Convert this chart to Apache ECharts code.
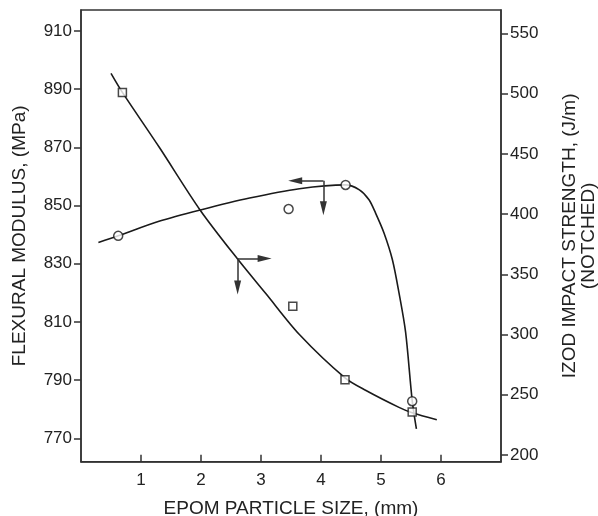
<!DOCTYPE html>
<html>
<head>
<meta charset="utf-8">
<script src="https://cdn.jsdelivr.net/npm/echarts@6/dist/echarts.min.js"></script>
<style>
html,body{margin:0;padding:0;background:#fff;}
#chart{width:598px;height:516px;}
</style>
</head>
<body>
<div id="chart"></div>
<script>
// Axis ticks
const xTicks = [1, 2, 3, 4, 5, 6];
const flexTicks = [770, 790, 810, 830, 850, 870, 890, 910];
const izodTicks = [200, 250, 300, 350, 400, 450, 500, 550];

// Measured points: flexural modulus (circles, left axis)
const flexX = [0.62, 3.46, 4.41, 5.52];
const flexY = [839.6, 848.8, 857.1, 782.8];

// Measured points: Izod impact strength (squares, right axis)
const izodX = [0.69, 3.53, 4.40, 5.52];
const izodY = [501.0, 323.5, 262.5, 235.6];

// Fitted curve: flexural modulus
const flexCurveX = [0.29, 0.62, 1.30, 1.99, 2.81, 3.64, 4.41, 4.64, 4.80, 4.91, 5.05, 5.19, 5.30, 5.41, 5.52, 5.59];
const flexCurveY = [837.3, 839.6, 844.6, 848.5, 852.6, 855.8, 857.1, 855.4, 852.0, 847.4, 840.6, 831.4, 820.0, 806.5, 783.0, 773.3];

// Fitted curve: Izod impact strength
const izodCurveX = [0.50, 0.69, 1.31, 1.99, 2.62, 3.08, 3.64, 4.40, 4.75, 5.30, 5.52, 5.93];
const izodCurveY = [516.8, 501.0, 455.0, 403.0, 362.0, 334.0, 300.0, 264.0, 253.5, 239.5, 235.0, 229.2];

// Axis-pointer arrows (data coordinates)
const flexArrowX = [4.04, 3.57];   // corner x, arrow tip x
const flexArrowY = [858.5, 849.1]; // corner y, arrow tip y
const izodArrowX = [2.61, 3.06];
const izodArrowY = [363.1, 339.0];

const zip = (a, b) => a.map((v, i) => [v, b[i]]);

const ink = '#1a1a1a';
const axisColor = '#333';
const fontFamily = '"Liberation Sans", Arial, Helvetica, sans-serif';

const chart = echarts.init(document.getElementById('chart'), null, {renderer: 'canvas'});

const arrowStyle = {color: axisColor, width: 1.5, type: 'solid'};

chart.setOption({
  animation: false,
  backgroundColor: '#fff',
  grid: {left: 81, right: 97, top: 10, bottom: 54.3, containLabel: false, outerBoundsMode: 'none', show: true, borderColor: axisColor, borderWidth: 1.5, backgroundColor: 'transparent'},
  textStyle: {fontFamily: fontFamily},
  xAxis: {
    type: 'value',
    min: 0, max: 7,
    name: 'EPOM PARTICLE SIZE, (mm)',
    nameLocation: 'middle',
    nameGap: 38,
    nameTextStyle: {fontSize: 19, color: '#222', fontFamily: fontFamily},
    axisLine: {show: true, lineStyle: {color: axisColor, width: 1.5}},
    axisTick: {show: true, inside: true, length: 7, lineStyle: {color: axisColor, width: 1.5}, customValues: xTicks},
    axisLabel: {fontSize: 17, color: '#222', margin: 10, customValues: xTicks, fontFamily: fontFamily},
    splitLine: {show: false}
  },
  yAxis: [
    {
      type: 'value',
      position: 'left',
      min: 762.0, max: 917.2,
      name: 'FLEXURAL MODULUS, (MPa)',
      nameLocation: 'middle',
      nameRotate: 90,
      nameGap: 52,
      nameTextStyle: {fontSize: 19, color: '#222', fontFamily: fontFamily},
      axisLine: {show: true, lineStyle: {color: axisColor, width: 1.5}},
      axisTick: {show: true, inside: false, length: 7, lineStyle: {color: axisColor, width: 1.5}, customValues: flexTicks},
      axisLabel: {fontSize: 17, color: '#222', margin: 9, customValues: flexTicks, fontFamily: fontFamily},
      splitLine: {show: false}
    },
    {
      type: 'value',
      position: 'right',
      min: 194.4, max: 569.4,
      name: 'IZOD IMPACT STRENGTH, (J/m)\n(NOTCHED)',
      nameLocation: 'middle',
      nameRotate: 90,
      nameGap: 59,
      nameTextStyle: {fontSize: 19, color: '#222', lineHeight: 19, align: 'center', fontFamily: fontFamily},
      axisLine: {show: true, lineStyle: {color: axisColor, width: 1.5}},
      axisTick: {show: true, inside: false, length: 7, lineStyle: {color: axisColor, width: 1.5}, customValues: izodTicks},
      axisLabel: {fontSize: 17, color: '#222', margin: 9, customValues: izodTicks, fontFamily: fontFamily},
      splitLine: {show: false}
    }
  ],
  series: [
    {
      name: 'Flexural curve',
      type: 'line',
      yAxisIndex: 0,
      data: zip(flexCurveX, flexCurveY),
      smooth: 0.3,
      showSymbol: false,
      lineStyle: {color: ink, width: 1.6},
      silent: true,
      z: 2,
      markLine: {
        silent: true,
        symbol: ['none', 'triangle'],
        symbolSize: [7, 14],
        label: {show: false},
        lineStyle: arrowStyle,
        data: [
          [{coord: [flexArrowX[0], flexArrowY[0]]}, {coord: [flexArrowX[1], flexArrowY[0]]}],
          [{coord: [flexArrowX[0], flexArrowY[0]]}, {coord: [flexArrowX[0], flexArrowY[1]]}]
        ]
      }
    },
    {
      name: 'Izod curve',
      type: 'line',
      yAxisIndex: 1,
      data: zip(izodCurveX, izodCurveY),
      smooth: 0.3,
      showSymbol: false,
      lineStyle: {color: ink, width: 1.6},
      silent: true,
      z: 2,
      markLine: {
        silent: true,
        symbol: ['none', 'triangle'],
        symbolSize: [7, 14],
        label: {show: false},
        lineStyle: arrowStyle,
        data: [
          [{coord: [izodArrowX[0], izodArrowY[0]]}, {coord: [izodArrowX[1], izodArrowY[0]]}],
          [{coord: [izodArrowX[0], izodArrowY[0]]}, {coord: [izodArrowX[0], izodArrowY[1]]}]
        ]
      }
    },
    {
      name: 'Flexural modulus',
      type: 'scatter',
      yAxisIndex: 0,
      data: zip(flexX, flexY),
      symbol: 'circle',
      symbolSize: 9,
      itemStyle: {color: '#fff', borderColor: ink, borderWidth: 1.5},
      z: 5
    },
    {
      name: 'Izod impact strength',
      type: 'scatter',
      yAxisIndex: 1,
      data: zip(izodX, izodY),
      symbol: 'rect',
      symbolSize: 8,
      itemStyle: {color: '#fff', borderColor: ink, borderWidth: 1.5},
      z: 5
    }
  ]
});
</script>
</body>
</html>
